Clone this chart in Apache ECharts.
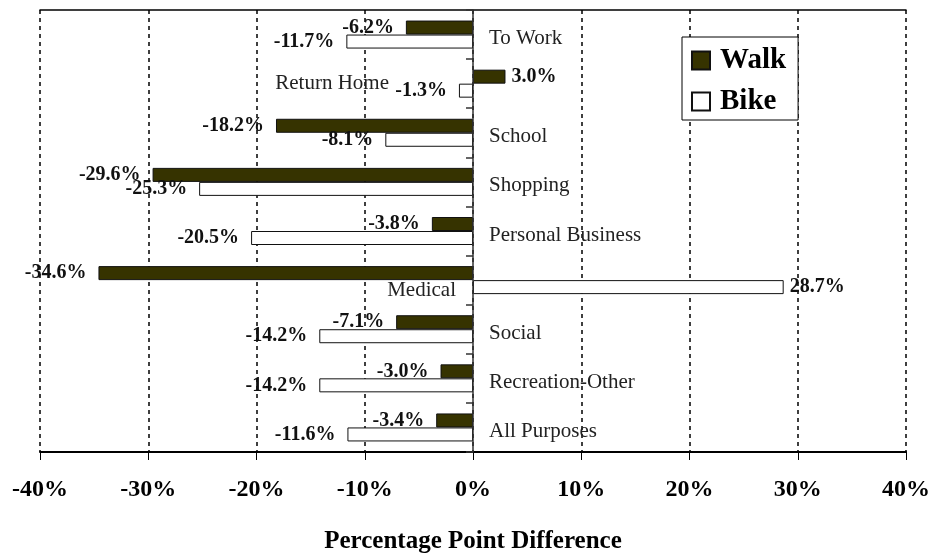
<!DOCTYPE html>
<html>
<head>
<meta charset="utf-8">
<script src="https://cdn.jsdelivr.net/npm/echarts@6/dist/echarts.min.js"></script>
<style>html,body{margin:0;padding:0;background:#fff}#c{width:931px;height:554px}</style>
</head>
<body>
<div id="c"></div>
<script>
const categories = ['To Work','Return Home','School','Shopping','Personal Business','Medical','Social','Recreation-Other','All Purposes'];
const walk = [-6.2, 3.0, -18.2, -29.6, -3.8, -34.6, -7.1, -3.0, -3.4];
const bike = [-11.7, -1.3, -8.1, -25.3, -20.5, 28.7, -14.2, -14.2, -11.6];
const xTicks = [-40, -30, -20, -10, 0, 10, 20, 30, 40];

const serif = 'Liberation Serif, Times New Roman, serif';

function toItems(arr) {
  return arr.map(v => ({
    value: v,
    label: { position: v < 0 ? 'left' : 'right', distance: v < 0 ? 12 : 6 }
  }));
}

const catItems = categories.map(c => {
  if (c === 'Return Home') return { value: c, textStyle: { align: 'right', verticalAlign: 'middle', lineHeight: 21, padding: [0, 100, 0, 0] } };
  if (c === 'Medical') return { value: c, textStyle: { align: 'right', verticalAlign: 'top', lineHeight: 20, padding: [0, 33, 0, 0] } };
  return { value: c };
});

const labelStyle = {
  show: true,
  formatter: p => p.value.toFixed(1) + '%',
  fontFamily: serif, fontWeight: 'bold', fontSize: 20, color: '#111'
};

const chart = echarts.init(document.getElementById('c'));
chart.setOption({
  animation: false,
  backgroundColor: '#fff',
  grid: { left: 40, right: 25, top: 10, bottom: 102, containLabel: false, outerBoundsMode: 'none' },
  legend: {
    orient: 'vertical', left: 682, top: 37,
    backgroundColor: '#fff', borderColor: '#000', borderWidth: 1,
    padding: [9, 12, 4, 9], itemGap: 12,
    itemWidth: 18, itemHeight: 18, icon: 'rect',
    textStyle: { fontFamily: serif, fontWeight: 'bold', fontSize: 29, color: '#000', padding: [0, 0, 0, 5] },
    data: ['Walk', 'Bike']
  },
  xAxis: [{
    type: 'value', min: xTicks[0], max: xTicks[xTicks.length - 1], interval: 10,
    position: 'bottom',
    axisLine: { show: true, onZero: false, lineStyle: { color: '#000', width: 2 } },
    axisTick: { show: true, length: 8, lineStyle: { color: '#000', width: 1 } },
    axisLabel: { formatter: '{value}%', fontFamily: serif, fontWeight: 'bold', fontSize: 24, color: '#000', margin: 26 },
    splitLine: { show: true, lineStyle: { color: '#000', width: 1.5, type: [4, 4] } },
    name: 'Percentage Point Difference', nameLocation: 'middle', nameGap: 77,
    nameTextStyle: { fontFamily: serif, fontWeight: 'bold', fontSize: 25, color: '#000' }
  }, {
    type: 'value', min: xTicks[0], max: xTicks[xTicks.length - 1], interval: 10,
    position: 'top',
    axisLine: { show: true, onZero: false, lineStyle: { color: '#000', width: 1.5 } },
    axisTick: { show: false }, axisLabel: { show: false }, splitLine: { show: false }
  }],
  yAxis: {
    type: 'category', data: catItems, inverse: true,
    offset: -433, z: 5,
    axisLine: { show: true, onZero: false, lineStyle: { color: '#333', width: 1.5 } },
    axisTick: { show: true, length: 7, lineStyle: { color: '#333', width: 1.5 } },
    axisLabel: { inside: true, margin: 16, fontFamily: serif, fontSize: 21, color: '#222', verticalAlign: 'top', lineHeight: 8 },
    splitLine: { show: false }
  },
  series: [{
    name: 'Walk', type: 'bar', data: toItems(walk), barWidth: 14, barGap: '0%',
    itemStyle: { color: '#363300', borderColor: '#111', borderWidth: 1 },
    label: labelStyle
  }, {
    name: 'Bike', type: 'bar', data: toItems(bike), barWidth: 14, barGap: '0%',
    itemStyle: { color: '#fff', borderColor: '#111', borderWidth: 1 },
    label: labelStyle
  }]
});
</script>
</body>
</html>
